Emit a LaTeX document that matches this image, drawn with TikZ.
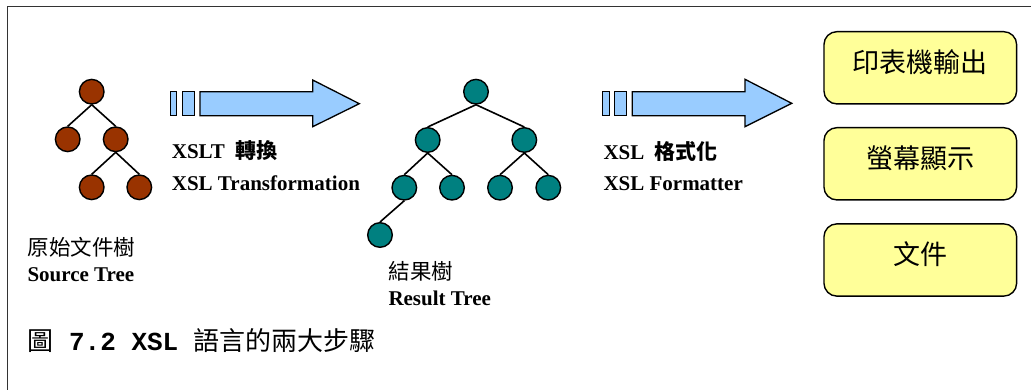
\documentclass[tikz,border=0pt]{standalone}
\usepackage{fontspec}
\setmainfont{Liberation Serif}
\setmonofont{Liberation Mono}
\newfontfamily\cjk{Noto Sans CJK TC}
\begin{document}
\begin{tikzpicture}[x=1pt,y=-1pt,
  brownnode/.style={circle,draw=black,line width=1.4pt,fill=brownfill,minimum size=24.6pt,inner sep=0pt},
  tealnode/.style={circle,draw=black,line width=1.4pt,fill=tealfill,minimum size=24.6pt,inner sep=0pt},
  edge/.style={line width=1.6pt,black},
  bigarrow/.style={draw=black,line width=1.3pt,fill=arrowfill,line join=miter},
  outbox/.style={draw=black,line width=1.4pt,fill=boxfill,rounded corners=13pt,minimum width=192.7pt,minimum height=72.3pt,inner sep=0pt,text height=23.8pt,text depth=15pt,font=\cjk\fontsize{27}{27}\selectfont},
  lbl/.style={inner sep=0pt,anchor=base west,font=\bfseries\fontsize{21}{21}\selectfont},
  cjklbl/.style={inner sep=0pt,anchor=west,font=\cjk\fontsize{21.5}{21.5}\selectfont}
]
\definecolor{brownfill}{HTML}{993300}
\definecolor{tealfill}{HTML}{008080}
\definecolor{arrowfill}{HTML}{99CCFF}
\definecolor{boxfill}{HTML}{FFFF99}
\definecolor{framecol}{HTML}{333333}
\useasboundingbox (0,0) rectangle (1031,390);
% frame
\draw[framecol,line width=1pt] (7,390) -- (7,7) -- (1031,7);

% source tree
\node[brownnode] (s1) at (91.7,91.7) {};
\node[brownnode] (s2) at (67.7,139.3) {};
\node[brownnode] (s3) at (115.7,139.3) {};
\node[brownnode] (s4) at (91.7,187.3) {};
\node[brownnode] (s5) at (139.3,187.3) {};
\draw[edge] (s1.south) -- (s2.north);
\draw[edge] (s1.south) -- (s3.north);
\draw[edge] (s3.south) -- (s4.north);
\draw[edge] (s3.south) -- (s5.north);

\node[cjklbl] (srccn) at (27.3,247.5) {原始文件樹};
\node[lbl] (srcen) at (27.3,281.7) {Source Tree};

% arrow 1
\draw[bigarrow] (170.7,91.7) rectangle (176.7,115.7);
\draw[bigarrow] (182.7,91.7) rectangle (194.7,115.7);
\draw[bigarrow] (200,91.7) -- (312.7,91.7) -- (312.7,80) -- (359.3,103.7) -- (312.7,126.7) -- (312.7,115.7) -- (200,115.7) -- cycle;
\node[lbl] (t1a) at (171.7,159) {XSLT\ \ {\cjk 轉換}};
\node[lbl] (t1b) at (171.7,190.7) {XSL Transformation};

% result tree
\node[tealnode] (r1) at (476,91.7) {};
\node[tealnode] (r2) at (427.7,140) {};
\node[tealnode] (r3) at (524.3,140) {};
\node[tealnode] (r4) at (404.3,187.7) {};
\node[tealnode] (r5) at (452,187.7) {};
\node[tealnode] (r6) at (500,187.7) {};
\node[tealnode] (r7) at (548.3,187.7) {};
\node[tealnode] (r8) at (380,235) {};
\draw[edge] (r1.south) -- (r2.north);
\draw[edge] (r1.south) -- (r3.north);
\draw[edge] (r2.south) -- (r4.north);
\draw[edge] (r2.south) -- (r5.north);
\draw[edge] (r3.south) -- (r6.north);
\draw[edge] (r3.south) -- (r7.north);
\draw[edge] (r4.south) -- (r8.north);

\node[cjklbl] (rescn) at (388.3,271) {結果樹};
\node[lbl] (resen) at (388.3,305.7) {Result Tree};

% arrow 2
\draw[bigarrow] (602.7,91.7) rectangle (609.3,115.7);
\draw[bigarrow] (614.3,91.7) rectangle (626.7,115.7);
\draw[bigarrow] (632.3,91.7) -- (745,91.7) -- (745,79.3) -- (791.7,103.3) -- (745,126.7) -- (745,115.7) -- (632.3,115.7) -- cycle;
\node[lbl] (t2a) at (603.3,160) {XSL\ \ {\cjk 格式化}};
\node[lbl] (t2b) at (603.3,191) {XSL Formatter};

% output boxes
\node[outbox] (printer) at (920.3,67.8) {印表機輸出};
\node[outbox] (screen) at (920.3,163.8) {螢幕顯示};
\node[outbox] (doc) at (920.3,260) {文件};

% caption
\node[inner sep=0pt,anchor=west,font=\fontsize{26}{26}\selectfont] (caption) at (27.3,340.5) {{\cjk 圖}{\ttfamily\bfseries\ 7.2 XSL\ }{\cjk 語言的兩大步驟}};
\end{tikzpicture}
\end{document}
